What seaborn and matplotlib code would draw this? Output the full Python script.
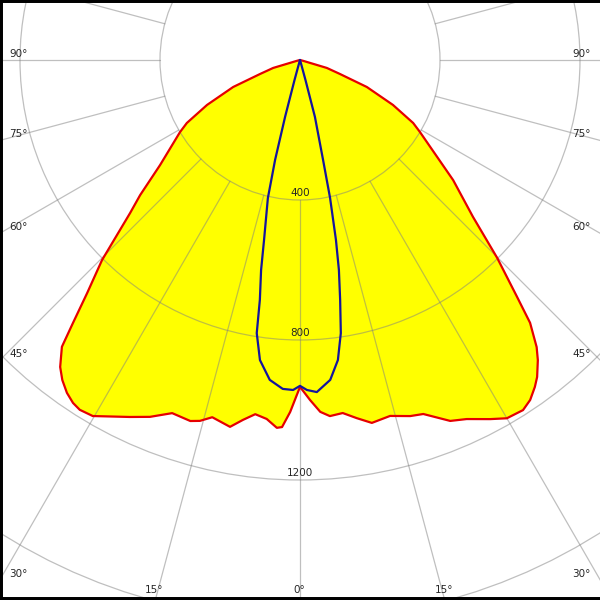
import numpy as np
import pandas as pd
import seaborn as sns
import matplotlib
matplotlib.use('Agg')
import matplotlib.pyplot as plt
from matplotlib.patches import Circle

# luminous intensity (cd) vs gamma angle, left half negative
red_angle = [-90, -80, -75, -73.5, -70.7, -68.0, -64.2, -60.9, -59.0, -53.1, -49.8,
             -48.0, -44.7, -42.4, -40.8, -39.7, -38.0, -36.6, -35.0, -33.5, -32.2,
             -30.2, -25.5, -22.8, -19.9, -16.9, -15.5, -13.8, -10.8, -9.0, -7.2,
             -5.3, -3.6, -2.8, -1.6, 0,
             1.7, 3.3, 4.8, 6.9, 9.0, 11.2, 14.2, 17.2, 19.2, 22.6, 24.9, 27.9,
             30.0, 32.5, 34.1, 35.7, 36.8, 38.4, 39.5, 41.2, 42.5, 44.9, 47.8,
             51.9, 59.0, 60.9, 64.2, 68.0, 70.7, 73.5, 75, 80, 90]
red_cd = [0, 0, 10, 80, 121, 206, 295, 370, 400, 500, 598,
          653, 804, 902, 993, 1065, 1113, 1139, 1161, 1175, 1181,
          1177, 1130, 1106, 1073, 1078, 1070, 1051, 1067, 1041, 1020,
          1030, 1053, 1050, 1006, 934,
          972, 1007, 1021, 1016, 1036, 1057, 1049, 1065, 1071, 1117, 1131, 1161,
          1182, 1186, 1173, 1150, 1131, 1094, 1063, 998, 918, 798, 667,
          556, 400, 370, 295, 206, 121, 80, 10, 0, 0]

blue_angle = [-90, -20, -16, -15.3, -14.7, -14.0, -13.1, -11.3, -10.5, -9.5, -9.0,
              -7.6, -5.4, -3.0, -1.2, 0, 1.2, 2.9, 5.4, 7.2, 8.5, 9.5, 10.5,
              11.3, 12.3, 13.0, 14.7, 15.3, 16, 20, 90]
blue_cd = [0, 0, 10, 60, 168, 294, 405, 524, 610, 695, 790,
           865, 918, 941, 943, 931, 943, 950, 918, 864, 789, 695, 610,
           524, 403, 293, 168, 60, 10, 0, 0]

ring_values = [400, 800, 1200, 1600]
ring_labels = ['400', '800', '1200']
spoke_angles = list(range(-180, 180, 15))
labelled_angles = list(range(-90, 91, 15))

PX_PER_CD = 0.35
W, H = 600, 600
CX, CY = 300, 60


def to_xy(angle, cd):
    a = np.radians(np.asarray(angle, dtype=float))
    r = np.asarray(cd, dtype=float)
    return r * np.sin(a), -r * np.cos(a)


rx, ry = to_xy(red_angle, red_cd)
bx, by = to_xy(blue_angle, blue_cd)
df_red = pd.DataFrame({'x': rx, 'y': ry})
df_blue = pd.DataFrame({'x': bx, 'y': by})

sns.set_style('white')
plt.rcParams['font.family'] = ['DejaVu Sans']

fig = plt.figure(figsize=(6, 6), dpi=100)
ax = fig.add_axes([0, 0, 1, 1])
xmin, xmax = -CX / PX_PER_CD, (W - CX) / PX_PER_CD
ymin, ymax = -(H - CY) / PX_PER_CD, CY / PX_PER_CD
ax.set_xlim(xmin, xmax)
ax.set_ylim(ymin, ymax)
ax.set_aspect('equal')
ax.set_xticks([])
ax.set_yticks([])

ax.fill(df_red['x'], df_red['y'], color='#ffff00', zorder=1, lw=0)

grid_kw = dict(color='#808080', alpha=0.5, lw=0.9, zorder=2)
for rv in ring_values:
    ax.add_patch(Circle((0, 0), rv, fill=False, **grid_kw))
for a in spoke_angles:
    sx, sy = to_xy([a, a], [ring_values[0], 2500])
    ax.plot(sx, sy, **grid_kw)

sns.lineplot(data=df_red, x='x', y='y', sort=False, estimator=None,
             color='#e60000', lw=1.6, ax=ax, zorder=3)
sns.lineplot(data=df_blue, x='x', y='y', sort=False, estimator=None,
             color='#14149e', lw=1.6, ax=ax, zorder=4)
for line in ax.lines[-2:]:
    line.set_solid_joinstyle('round')
ax.set_xlabel('')
ax.set_ylabel('')

for rv, lab in zip(ring_values, ring_labels):
    ax.annotate(lab, (0, -rv), xytext=(0, 4), textcoords='offset pixels',
                ha='center', va='baseline', fontsize=7.5, zorder=5)

# angle labels where the spokes meet the frame
for a in labelled_angles:
    dx, dy = np.sin(np.radians(a)), -np.cos(np.radians(a))
    hits = []
    if dx < 0:
        hits.append((xmin / dx, 'left'))
    if dx > 0:
        hits.append((xmax / dx, 'right'))
    if dy < 0:
        hits.append((ymin / dy, 'bottom'))
    t, side = min(hits)
    px, py = t * dx, t * dy
    text = f'{abs(a)}°'
    if side == 'left':
        ax.annotate(text, (px, py), xytext=(9, 1), textcoords='offset pixels',
                    ha='left', va='bottom', fontsize=7.5)
    elif side == 'right':
        ax.annotate(text, (px, py), xytext=(-9, 1), textcoords='offset pixels',
                    ha='right', va='bottom', fontsize=7.5)
    else:
        ax.annotate(text, (px, py), xytext=(-1, 7), textcoords='offset pixels',
                    ha='center', va='baseline', fontsize=7.5)

for side in ['top', 'left', 'bottom']:
    ax.spines[side].set_visible(True)
    ax.spines[side].set_color('black')
    ax.spines[side].set_linewidth(4.3)
ax.spines['right'].set_visible(False)

fig.savefig('out.png', dpi=100)
